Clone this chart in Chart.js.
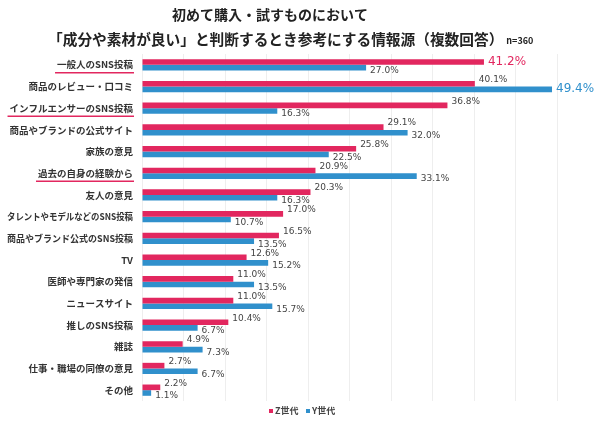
<!DOCTYPE html>
<html>
<head>
<meta charset="utf-8">
<script src="https://cdn.jsdelivr.net/npm/chart.js@4"></script>
<style>
  html, body { margin: 0; padding: 0; background: #fff; }
  #wrap { width: 600px; height: 422px; }
</style>
</head>
<body>
<div id="wrap"><canvas id="chart"></canvas></div>
<script>
// data
const categories = [
  '一般人のSNS投稿', '商品のレビュー・口コミ', 'インフルエンサーのSNS投稿', '商品やブランドの公式サイト',
  '家族の意見', '過去の自身の経験から', '友人の意見', 'タレントやモデルなどのSNS投稿',
  '商品やブランド公式のSNS投稿', 'TV', '医師や専門家の発信', 'ニュースサイト',
  '推しのSNS投稿', '雑誌', '仕事・職場の同僚の意見', 'その他'
];
const genZ = [41.2, 40.1, 36.8, 29.1, 25.8, 20.9, 20.3, 17.0, 16.5, 12.6, 11.0, 11.0, 10.4, 4.9, 2.7, 2.2];
const genY = [27.0, 49.4, 16.3, 32.0, 22.5, 33.1, 16.3, 10.7, 13.5, 15.2, 13.5, 15.7, 6.7, 7.3, 6.7, 1.1];
const seriesNames = ['Z世代', 'Y世代'];
const underlined = [0, 2, 5];
const highlight = { 0: 0, 1: 1 }; // dataset index -> category index shown big

const PINK = '#e2275f';
const BLUE = '#3090cc';
const JP = '"Noto Sans CJK JP", "Noto Sans", sans-serif';
const LABEL_FONT = 'bold 9.5px ' + JP;
const LABEL_RIGHT = 133;

// Title, category labels, value labels, underlines, legend
const extras = {
  id: 'extras',
  afterDraw(chart) {
    const ctx = chart.ctx;
    const y = chart.scales.y;
    ctx.save();

    // title
    ctx.fillStyle = '#222';
    ctx.textBaseline = 'middle';
    ctx.font = 'bold 14px ' + JP;
    ctx.textAlign = 'center';
    ctx.fillText('初めて購入・試すものにおいて', 270, 15);
    ctx.textAlign = 'left';
    const line2 = '「成分や素材が良い」と判断するとき参考にする情報源（複数回答）';
    ctx.font = 'bold 14.7px ' + JP;
    ctx.fillText(line2, 48, 39);
    const w2 = ctx.measureText(line2).width;
    ctx.font = 'bold 9px ' + JP;
    ctx.fillText('n=360', 51 + w2, 41);

    // category labels (squeezed when long) + underlines
    ctx.font = LABEL_FONT;
    ctx.textAlign = 'right';
    ctx.fillStyle = '#333';
    ctx.strokeStyle = PINK;
    ctx.lineWidth = 1.5;
    categories.forEach((c, i) => {
      const py = y.getPixelForValue(i);
      ctx.fillText(c, LABEL_RIGHT, py, 126);
      if (underlined.includes(i)) {
        const w = Math.min(ctx.measureText(c).width, 126);
        ctx.beginPath();
        ctx.moveTo(LABEL_RIGHT - w - 2, py + 8);
        ctx.lineTo(LABEL_RIGHT + 1, py + 8);
        ctx.stroke();
      }
    });

    // value labels
    ctx.textAlign = 'left';
    chart.data.datasets.forEach((ds, di) => {
      const meta = chart.getDatasetMeta(di);
      meta.data.forEach((bar, i) => {
        const txt = ds.data[i].toFixed(1) + '%';
        if (highlight[di] === i) {
          ctx.font = '12px "DejaVu Sans", sans-serif';
          ctx.fillStyle = di === 0 ? PINK : BLUE;
          ctx.fillText(txt, bar.x + 4, bar.y);
        } else {
          ctx.font = '9px "DejaVu Sans", sans-serif';
          ctx.fillStyle = '#444';
          ctx.fillText(txt, bar.x + 4, di === 0 ? bar.y - 4 : bar.y + 3);
        }
      });
    });

    // legend
    ctx.font = 'bold 9px ' + JP;
    [[269, PINK], [306, BLUE]].forEach(([lx, col], k) => {
      ctx.fillStyle = col;
      ctx.fillRect(lx, 409, 4, 4);
      ctx.fillStyle = '#444';
      ctx.fillText(seriesNames[k], lx + 6, 411);
    });
    ctx.restore();
  }
};

new Chart(document.getElementById('chart'), {
  type: 'bar',
  data: {
    labels: categories,
    datasets: [
      { label: seriesNames[0], data: genZ, backgroundColor: PINK },
      { label: seriesNames[1], data: genY, backgroundColor: BLUE }
    ]
  },
  options: {
    indexAxis: 'y',
    responsive: true,
    maintainAspectRatio: false,
    animation: false,
    layout: { padding: { top: 54, right: 43, bottom: 21, left: 0 } },
    datasets: { bar: { categoryPercentage: 0.52, barPercentage: 1 } },
    plugins: { legend: { display: false }, tooltip: { enabled: false } },
    scales: {
      x: {
        min: 0, max: 50,
        ticks: { display: false, stepSize: 5 },
        grid: { color: '#eeeeee', drawTicks: false },
        border: { display: false },
        afterFit: s => { s.height = 0; }
      },
      y: {
        grid: { display: false, drawTicks: false },
        border: { display: false },
        ticks: { display: false },
        afterFit: s => { s.width = 142; }
      }
    }
  },
  plugins: [extras]
});
</script>
</body>
</html>
